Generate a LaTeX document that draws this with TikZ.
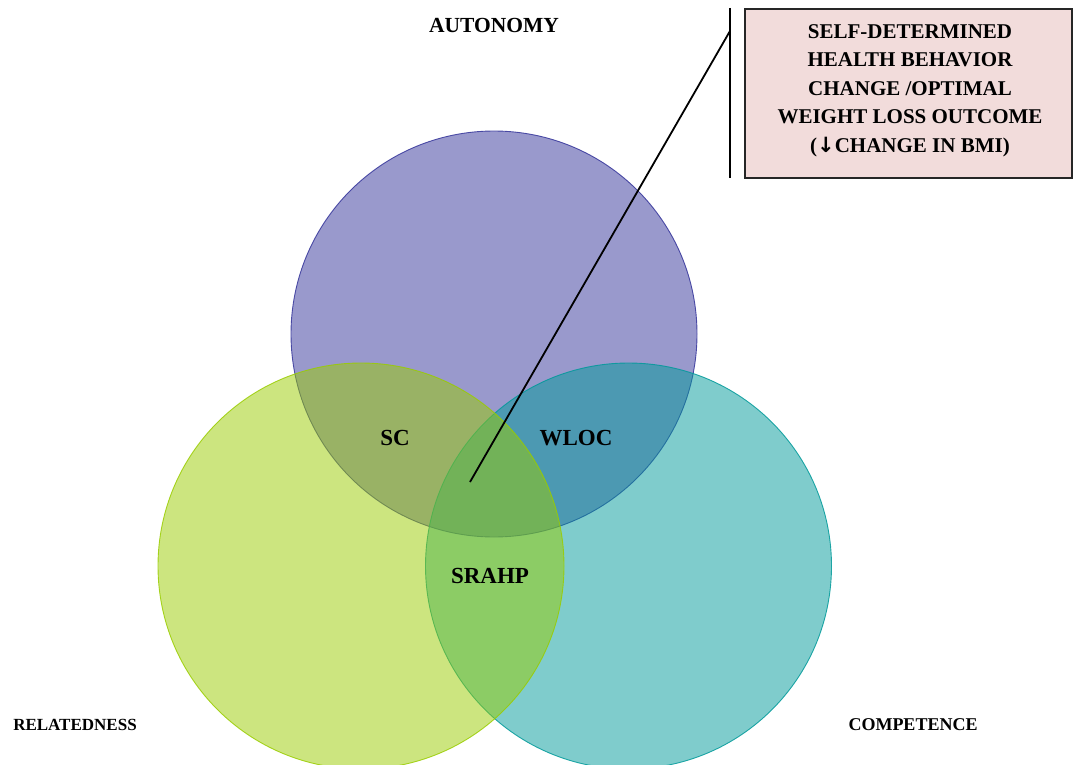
\documentclass[tikz,border=0pt]{standalone}
\usepackage{fontspec}
\setmainfont{Liberation Serif}
\newfontfamily\arrowfont{DejaVu Sans}
\definecolor{cpurple}{HTML}{333399}
\definecolor{cteal}{HTML}{009999}
\definecolor{clime}{HTML}{99CC00}
\definecolor{cpink}{HTML}{F2DCDB}
\begin{document}
\begin{tikzpicture}[x=1pt,y=-1pt,
  venn/.style={circle, minimum size=406pt, inner sep=0pt, line width=0.9pt, fill opacity=0.5, draw opacity=0.85},
  lbl/.style={font=\bfseries, inner sep=0pt, text=black},
  callout/.style={line width=1.8pt, black}]
\useasboundingbox (0,0) rectangle (1073,765);
\clip (0,0) rectangle (1073,765);
\node[venn, draw=cpurple, fill=cpurple] (autc) at (494,334) {};
\node[venn, draw=cteal, fill=cteal] (compc) at (628.5,566) {};
\node[venn, draw=clime, fill=clime] (relc) at (361,566) {};
\node[lbl, font=\fontsize{21.5}{24}\selectfont\bfseries] (aut) at (494,25) {AUTONOMY};
\node[lbl, font=\fontsize{17}{20}\selectfont\bfseries] (rel) at (75,725) {RELATEDNESS};
\node[lbl, font=\fontsize{18}{20}\selectfont\bfseries] (comp) at (913,725) {COMPETENCE};
\node[lbl, font=\fontsize{23}{26}\selectfont\bfseries] (sc) at (395,438) {SC};
\node[lbl, font=\fontsize{23}{26}\selectfont\bfseries] (wloc) at (576,438) {WLOC};
\node[lbl, font=\fontsize{23}{26}\selectfont\bfseries] (srahp) at (490,576) {SRAHP};
\node[draw=black!85, line width=1.6pt, fill=cpink, minimum width=327pt, minimum height=169pt, inner sep=0pt] (box) at (908.5,93.5) {};
\node[align=center, inner sep=0pt, font=\fontsize{21}{28.5}\selectfont\bfseries] (boxtext) at (910,90.5)
  {SELF-DETERMINED\\HEALTH BEHAVIOR\\CHANGE /OPTIMAL\\WEIGHT LOSS OUTCOME\\({\arrowfont\bfseries ↓}CHANGE IN BMI)};
\coordinate (tip) at (470,482);
\coordinate (bartop) at (730,8);
\coordinate (barbot) at (730,178);
\coordinate (join) at (730,31);
\draw[callout] (bartop) -- (barbot);
\draw[callout] (tip) -- (join);
\end{tikzpicture}
\end{document}
